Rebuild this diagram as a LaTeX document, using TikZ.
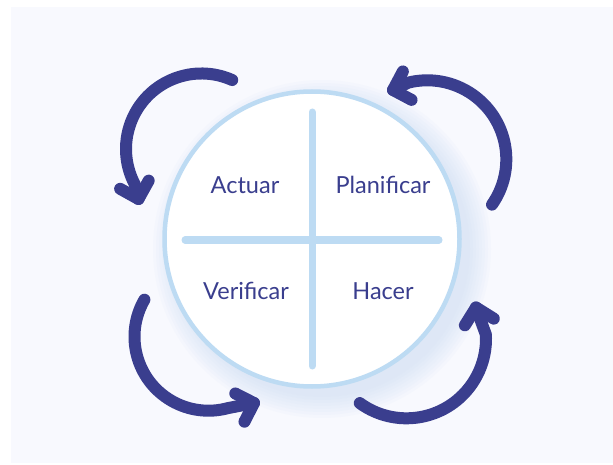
\documentclass[tikz,border=0pt]{standalone}
\usepackage{fontspec}
\setmainfont{Lato}
\definecolor{pdcanavy}{RGB}{58,62,142}
\definecolor{pdcasky}{RGB}{189,219,243}
\definecolor{pdcabg}{RGB}{248,249,254}
\definecolor{pdcaglow}{RGB}{200,219,245}

\begin{document}
\begin{tikzpicture}[
    x=1pt, y=-1pt,
    stage/.style={font=\fontsize{23.5}{28}\selectfont, text=pdcanavy, anchor=base, inner sep=0pt},
    divider/.style={line width=7pt, line cap=round, draw=pdcasky},
    cyclearrow/.style={line width=12pt, line cap=round, line join=round, draw=pdcanavy}
]
\useasboundingbox (0,0) rectangle (613,465);

% Background
\fill[white] (0,0) rectangle (613,465);
\fill[pdcabg] (11,7) rectangle (613,463);

% Wheel with soft glow
\foreach \r in {148,151,...,169}
    \fill[pdcaglow, opacity=0.08] (322,249) circle[radius=\r];
\node[circle, draw=pdcasky, line width=4.5pt, fill=white, minimum size=295pt, inner sep=0pt] (wheel) at (312,239) {};
\draw[divider] (312,112) -- (312,366);
\draw[divider] (185,240) -- (439,240);

% Quadrant labels
\node[stage] (actuar) at (245,194) {Actuar};
\node[stage] (planificar) at (383,194) {Planificar};
\node[stage] (verificar) at (246,299) {Verificar};
\node[stage] (hacer) at (383,299) {Hacer};

% Cycle arrows, top left
\coordinate (nwC) at (201.5,149);
\coordinate (nwTail) at ([shift={(-66:75.5)}]nwC);
\coordinate (nwTip) at (138.5,199);
\draw[cyclearrow] (nwTail) arc[start angle=-66, end angle=-208, radius=75.5] -- (nwTip);
\draw[cyclearrow] ([shift={(209:21)}]nwTip) -- (nwTip) -- ([shift={(299:21)}]nwTip);

% top right
\coordinate (neC) at (427.3,159.3);
\coordinate (neTail) at ([shift={(35:79)}]neC);
\coordinate (neTip) at (393,90);
\draw[cyclearrow] (neTail) arc[start angle=35, end angle=-104, radius=79] -- (neTip);
\draw[cyclearrow] ([shift={(298:21)}]neTip) -- (neTip) -- ([shift={(28:21)}]neTip);

% bottom left
\coordinate (swC) at (208.5,336.7);
\coordinate (swTail) at ([shift={(210:74)}]swC);
\coordinate (swTip) at (254,403);
\draw[cyclearrow] (swTail) arc[start angle=210, end angle=75, radius=74] -- (swTip);
\draw[cyclearrow] ([shift={(117:21)}]swTip) -- (swTip) -- ([shift={(207:21)}]swTip);

% bottom right
\coordinate (seC) at (406.5,338.8);
\coordinate (seTail) at ([shift={(126:79.5)}]seC);
\coordinate (seTip) at (476,307.5);
\draw[cyclearrow] (seTail) arc[start angle=126, end angle=-3, radius=79.5] -- (seTip);
\draw[cyclearrow] ([shift={(32:21)}]seTip) -- (seTip) -- ([shift={(122:21)}]seTip);

\end{tikzpicture}
\end{document}
